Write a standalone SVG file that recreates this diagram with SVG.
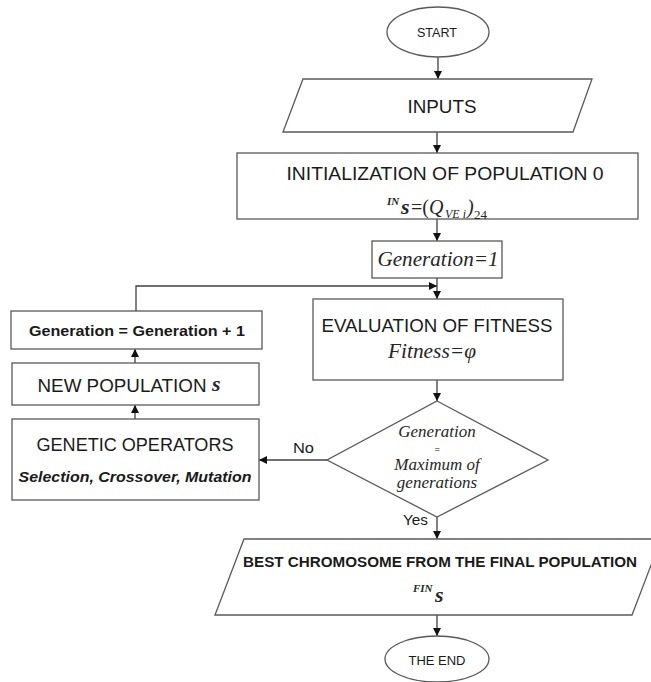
<svg xmlns="http://www.w3.org/2000/svg" width="651" height="682" viewBox="0 0 651 682">
<style>
.shape{fill:#fff;stroke:#595959;stroke-width:1.3}
.conn{fill:none;stroke:#404040;stroke-width:1.3}
.t{font-family:"Liberation Sans",Arial,sans-serif;fill:#1a1a1a;text-anchor:middle}
.b{font-weight:bold}
.m{font-family:"Liberation Serif","Times New Roman",serif;fill:#262626;font-style:italic}
.lbl{font-family:"Liberation Sans",Arial,sans-serif;fill:#1a1a1a;font-size:14px}
</style>
<defs>
<marker id="ah" markerUnits="userSpaceOnUse" markerWidth="10" markerHeight="10" refX="8" refY="4" orient="auto">
<path d="M0,0 L8,4 L0,8 z" fill="#111"/>
</marker>
</defs>
<rect width="651" height="682" fill="#fff"/>
<g id="connectors">
<path class="conn" d="M438,57 L438,79" marker-end="url(#ah)"/>
<path class="conn" d="M437,132 L437,153" marker-end="url(#ah)"/>
<path class="conn" d="M437,219 L437,241" marker-end="url(#ah)"/>
<path class="conn" d="M437,278 L437,299" marker-end="url(#ah)"/>
<path class="conn" d="M437,380 L437,401" marker-end="url(#ah)"/>
<path class="conn" d="M437,517 L437,539" marker-end="url(#ah)"/>
<path class="conn" d="M327,460 L259,460" marker-end="url(#ah)"/>
<path class="conn" d="M135,419 L135,405" marker-end="url(#ah)"/>
<path class="conn" d="M135,363 L135,349" marker-end="url(#ah)"/>
<path class="conn" d="M136,311 L136,286 L437,286" marker-end="url(#ah)"/>
<path class="conn" d="M437,615 L437,636" marker-end="url(#ah)"/>
<text class="lbl" x="403" y="525" textLength="25" lengthAdjust="spacingAndGlyphs">Yes</text>
<text class="lbl" x="293" y="453" textLength="21" lengthAdjust="spacingAndGlyphs">No</text>
</g>
<g id="start">
<ellipse class="shape" cx="438" cy="32" rx="51" ry="25"/>
<text class="t" x="437" y="37" font-size="13" textLength="40" lengthAdjust="spacingAndGlyphs">START</text>
</g>
<g id="inputs">
<polygon class="shape" points="303,79 592,79 573,132 283,132"/>
<text class="t" x="442" y="113" font-size="19" textLength="69" lengthAdjust="spacingAndGlyphs">INPUTS</text>
</g>
<g id="init">
<rect class="shape" x="237" y="153" width="401" height="66"/>
<text class="t" x="445" y="180" font-size="19" textLength="317" lengthAdjust="spacingAndGlyphs">INITIALIZATION OF POPULATION 0</text>
<text class="m" font-size="20"><tspan x="387" y="205" font-size="11" font-weight="bold">IN</tspan><tspan x="401" y="214" font-size="22" font-weight="bold">s</tspan><tspan x="411" y="214" font-style="normal">=(</tspan><tspan x="429" y="214">Q</tspan><tspan x="445" y="218" font-size="12">VE i</tspan><tspan x="467" y="214">)</tspan><tspan x="474" y="219" font-size="13" font-style="normal">24</tspan></text>
</g>
<g id="gen1">
<rect class="shape" x="372" y="241" width="130" height="37"/>
<text class="m" x="438" y="266" font-size="20" text-anchor="middle" textLength="121" lengthAdjust="spacingAndGlyphs">Generation=1</text>
</g>
<g id="eval">
<rect class="shape" x="313" y="299" width="250" height="81"/>
<text class="t" x="437" y="332" font-size="19" textLength="231" lengthAdjust="spacingAndGlyphs">EVALUATION OF FITNESS</text>
<text class="m" x="432" y="358" font-size="20" text-anchor="middle" textLength="88" lengthAdjust="spacingAndGlyphs">Fitness=φ</text>
</g>
<g id="decision">
<polygon class="shape" points="437,401 548,460 437,517 327,460"/>
<text class="m" x="437" y="437" font-size="17" text-anchor="middle">Generation</text>
<text class="m" x="437" y="453" font-size="10" font-style="normal" text-anchor="middle" fill="#777">=</text>
<text class="m" x="437" y="470" font-size="17" text-anchor="middle">Maximum of</text>
<text class="m" x="437" y="488" font-size="17" text-anchor="middle">generations</text>
</g>
<g id="genplus">
<rect class="shape" x="11" y="311" width="251" height="38"/>
<text class="t b" x="137" y="336" font-size="15" textLength="216" lengthAdjust="spacingAndGlyphs">Generation = Generation + 1</text>
</g>
<g id="newpop">
<rect class="shape" x="12" y="363" width="247" height="42"/>
<text class="t" x="122" y="392" font-size="19" textLength="169" lengthAdjust="spacingAndGlyphs">NEW POPULATION</text>
<text class="m" x="212" y="391" font-size="22" font-weight="bold">s</text>
</g>
<g id="genetic">
<rect class="shape" x="12" y="419" width="247" height="81"/>
<text class="t" x="135" y="451" font-size="19" textLength="197" lengthAdjust="spacingAndGlyphs">GENETIC OPERATORS</text>
<text class="t b" x="135" y="482" font-size="15" font-style="italic" textLength="233" lengthAdjust="spacingAndGlyphs">Selection, Crossover, Mutation</text>
</g>
<g id="best">
<polygon class="shape" points="244,539 661,539 632,615 215,615"/>
<text class="t b" x="440" y="567" font-size="14" textLength="394" lengthAdjust="spacingAndGlyphs">BEST CHROMOSOME FROM THE FINAL POPULATION</text>
<text class="m"><tspan x="413" y="592" font-size="11" font-weight="bold">FIN</tspan><tspan x="435" y="602" font-size="22" font-weight="bold">s</tspan></text>
</g>
<g id="end">
<ellipse class="shape" cx="437" cy="659" rx="52" ry="23"/>
<text class="t" x="437" y="665" font-size="13" textLength="57" lengthAdjust="spacingAndGlyphs">THE END</text>
</g>
</svg>
